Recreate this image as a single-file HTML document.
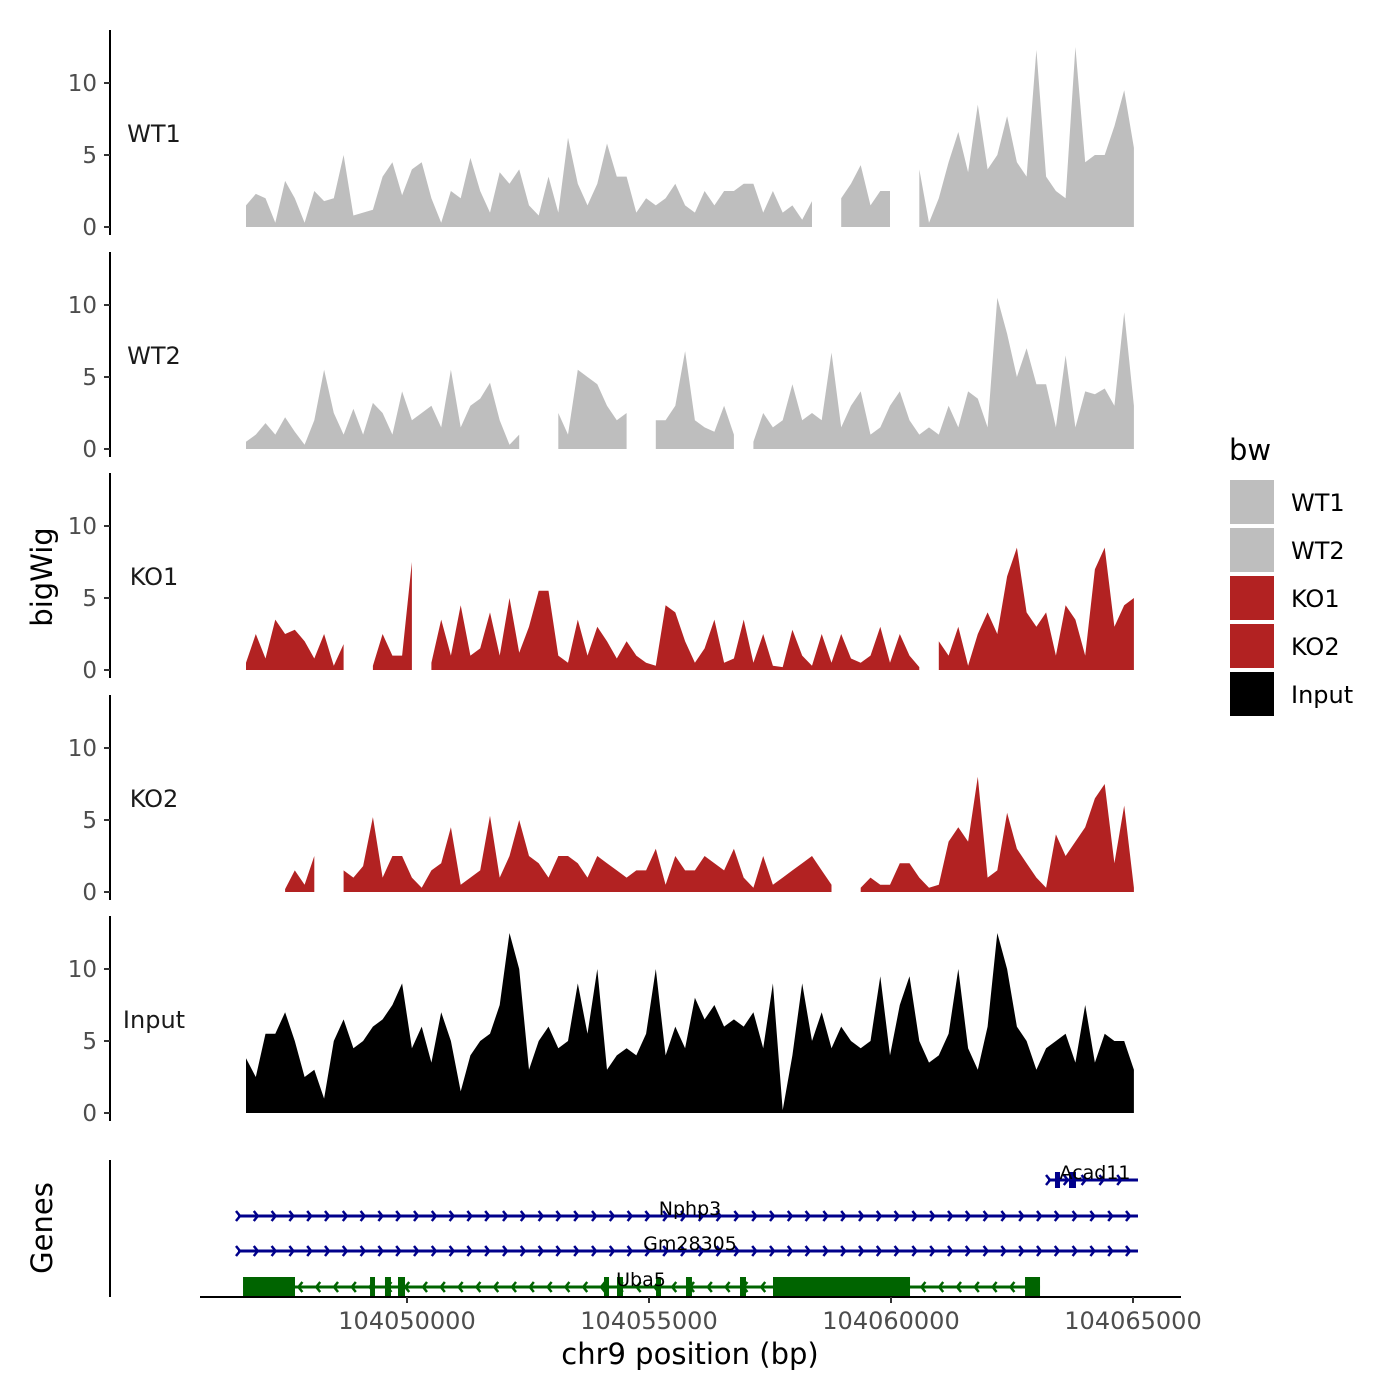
<!DOCTYPE html>
<html><head><meta charset="utf-8">
<style>
html,body{margin:0;padding:0;background:#fff;}
svg{display:block;font-family:"DejaVu Sans","Liberation Sans",sans-serif;}
</style></head>
<body>
<svg id="chart" width="1400" height="1400" viewBox="0 0 1400 1400" xmlns="http://www.w3.org/2000/svg">
<rect x="0" y="0" width="1400" height="1400" fill="#fff"/>
<g id="tracks"></g>
<g id="genes"></g>
<g id="xaxis"></g>
<text x="52" y="577" font-size="29" text-anchor="middle" transform="rotate(-90 52 577)">bigWig</text>
<text x="52" y="1228" font-size="29" text-anchor="middle" transform="rotate(-90 52 1228)">Genes</text>
<text x="690" y="1364" font-size="29" text-anchor="middle">chr9 position (bp)</text>
<g id="legend">
<text x="1229" y="460" font-size="29">bw</text>
</g>
</svg>
<script>
const startBp = 104046674;
const stepBp = 201.6;
const sampleNames = ["WT1","WT2","KO1","KO2","Input"];
const sampleColors = ["#bebebe","#bebebe","#b22222","#b22222","#000000"];
const wt1 = [1.5,2.3,2,0.3,3.2,2,0.3,2.5,1.8,2,5,0.8,1,1.2,3.5,4.5,2.2,4,4.5,2,0.3,2.5,2,4.8,2.5,1,3.8,3,4,1.5,0.8,3.5,1,6.2,3,1.5,3,5.8,3.5,3.5,1,2,1.5,2,3,1.5,1,2.5,1.5,2.5,2.5,3,3,1,2.5,1,1.5,0.5,1.8,null,null,2,3,4.3,1.5,2.5,2.5,null,null,4,0.3,2,4.5,6.6,3.8,8.5,4,5,7.7,4.5,3.5,12.3,3.5,2.5,2,12.5,4.5,5,5,7,9.5,5.5];
const wt2 = [0.5,1,1.8,1,2.2,1.2,0.3,2,5.5,2.5,1,2.8,1,3.2,2.5,1,4,2,2.5,3,1.5,5.5,1.5,3,3.5,4.6,2,0.3,1,null,null,null,2.5,1,5.5,5,4.5,3,2,2.5,null,null,2,2,3,6.8,2,1.5,1.2,3,1,null,0.5,2.5,1.5,2,4.5,2,2.5,2,6.7,1.5,3,4,1,1.5,3,4,2,1,1.5,1,3,1.5,4,3.5,1.5,10.5,8,5,7,4.5,4.5,1.5,6.5,1.5,4,3.8,4.2,3,9.5,3];
const ko1 = [0.5,2.5,0.8,3.5,2.5,2.8,2,0.8,2.5,0.3,1.8,null,null,0.3,2.5,1,1,7.5,null,0.5,3.5,1,4.5,1,1.5,4,1,5,1.2,3,5.5,5.5,1,0.5,3.5,1,3,2,0.8,2,1,0.5,0.3,4.5,4,2,0.5,1.5,3.5,0.5,0.8,3.5,0.5,2.5,0.3,0.2,2.8,1,0.3,2.5,0.5,2.5,0.8,0.5,1,3,0.5,2.5,1,0.2,null,2,1,3,0.3,2.5,4,2.5,6.5,8.5,4,3,4,1,4.5,3.5,1,7,8.5,3,4.5,5];
const ko2 = [null,null,null,null,0.2,1.5,0.5,2.5,null,null,1.5,1,1.8,5.2,1,2.5,2.5,1,0.3,1.5,2,4.5,0.5,1,1.5,5.3,1,2.5,5,2.5,2,1,2.5,2.5,2,1,2.5,2,1.5,1,1.5,1.5,3,0.5,2.5,1.5,1.5,2.5,2,1.5,3,1,0.3,2.5,0.5,1,1.5,2,2.5,1.5,0.5,null,null,0.3,1,0.5,0.5,2,2,1,0.3,0.5,3.5,4.5,3.5,8,1,1.5,5.5,3,2,1,0.3,4,2.5,3.5,4.5,6.5,7.5,2,6,0.3];
const input = [3.8,2.5,5.5,5.5,7,5,2.5,3,1,5,6.5,4.5,5,6,6.5,7.5,9,4.5,6,3.5,7,5,1.5,4,5,5.5,7.5,12.5,10,3,5,6,4.5,5,9,5.5,10,3,4,4.5,4,5.5,10,4,6,4.5,8,6.5,7.5,6,6.5,6,7,4.5,9,0.2,4,9,5,7,4.5,6,5,4.5,5,9.5,4,7.5,9.5,5,3.5,4,5.5,10,4.5,3,6,12.5,10,6,5,3,4.5,5,5.5,3.5,7.5,3.5,5.5,5,5,3];
const seriesValues = [wt1, wt2, ko1, ko2, input];
const yTicks = [0,5,10];
const xTicks = [104050000,104055000,104060000,104065000];
const xTickLabels = ["104050000","104055000","104060000","104065000"];
const geneNames = ["Acad11","Nphp3","Gm28305","Uba5"];
const geneStarts = [104063244,104046508,104046508,104046612];
const geneEnds = [104065103,104065103,104065103,104063079];
const geneStrand = [1,1,1,-1];
const geneColors = ["#00008b","#00008b","#00008b","#006400"];
const acadExonStarts = [104063388,104063678];
const acadExonEnds = [104063492,104063822];
const ubaExonStarts = [104046612,104049236,104049545,104049814,104054070,104054339,104055145,104055764,104056880,104057562,104062769];
const ubaExonEnds = [104047686,104049339,104049669,104049959,104054174,104054463,104055248,104055888,104057004,104060393,104063079];

const NS = "http://www.w3.org/2000/svg";
function mk(tag, attrs, parent){const e=document.createElementNS(NS,tag);for(const k in attrs)e.setAttribute(k,attrs[k]);parent.appendChild(e);return e;}
function xScale(bp){return 407 + (bp-104050000)*0.0484;}
const panelZero = [227,449,670,892,1113];
const pxPerUnit = 14.4;
function yScale(p,v){return panelZero[p]-v*pxPerUnit;}

const tracks=document.getElementById('tracks');
seriesValues.forEach((vals,p)=>{
  const g=mk('g',{},tracks);
  
  
  const ax=mk('line',{x1:110,x2:110,y1:panelZero[p]-197,y2:panelZero[p]+8,stroke:'#000','stroke-width':2},g);
  
  
  yTicks.forEach(t=>{
    const y=yScale(p,t);
    const tl=mk('line',{x1:104,x2:110,y1:y,y2:y,stroke:'#333','stroke-width':2},g);
    
    
    const tx=mk('text',{x:97,y:y+8,'font-size':23,fill:'#4d4d4d','text-anchor':'end'},g);
    
    
    tx.textContent=t;
  });
  const lb=mk('text',{x:154,y:panelZero[p]-85,'font-size':24,'text-anchor':'middle',fill:'#1a1a1a'},g);
  
  
  lb.textContent=sampleNames[p];
  let run=[];
  const runs=[];
  vals.forEach((v,i)=>{if(v===null){if(run.length)runs.push(run);run=[];}else run.push(i);});
  if(run.length)runs.push(run);
  runs.forEach(r=>{
    let d='M'+xScale(startBp+r[0]*stepBp).toFixed(1)+','+panelZero[p];
    r.forEach(i=>{d+=' L'+xScale(startBp+i*stepBp).toFixed(1)+','+yScale(p,vals[i]).toFixed(1);});
    d+=' L'+xScale(startBp+r[r.length-1]*stepBp).toFixed(1)+','+panelZero[p]+' Z';
    const a=mk('path',{d:d,fill:sampleColors[p]},g);
    
    
  });
});

const genes=document.getElementById('genes');
const gax=mk('line',{x1:110,x2:110,y1:1160,y2:1297,stroke:'#000','stroke-width':2},genes);


const geneY=[1180,1216,1251,1287];
geneNames.forEach((n,k)=>{
  const g=mk('g',{},genes);
  
  
  const x1=xScale(geneStarts[k]),x2=xScale(geneEnds[k]),y=geneY[k],c=geneColors[k];
  mk('line',{x1:x1,x2:x2,y1:y,y2:y,stroke:c,'stroke-width':3},g);
  for(let x=x1+2;x<=x2;x+=17.8){
    const s=geneStrand[k];
    mk('polyline',{points:(x-4*s)+','+(y-5)+' '+x+','+y+' '+(x-4*s)+','+(y+5),fill:'none',stroke:c,'stroke-width':2.5},g);
  }
  if(k===0){acadExonStarts.forEach((s,j)=>{const a=xScale(s),b=xScale(acadExonEnds[j]);mk('rect',{x:a,y:y-8,width:b-a,height:16,fill:c},g);});}
  if(k===3){ubaExonStarts.forEach((s,j)=>{const a=xScale(s),b=xScale(ubaExonEnds[j]);mk('rect',{x:a,y:y-10,width:b-a,height:20,fill:c},g);});}
  const lx=k===0?1095:(k===3?641:690);
  const t=mk('text',{x:lx,y:y-1,'font-size':19,'text-anchor':'middle',fill:'#000'},g);
  t.textContent=n;
});

const xa=document.getElementById('xaxis');
mk('line',{x1:200,x2:1181,y1:1297,y2:1297,stroke:'#000','stroke-width':2},xa);
xTicks.forEach((t,i)=>{
  const x=xScale(t);
  const tl=mk('line',{x1:x,x2:x,y1:1297,y2:1303,stroke:'#333','stroke-width':2},xa);
  
  
  const tx=mk('text',{x:x,y:1329,'font-size':24,fill:'#4d4d4d','text-anchor':'middle'},xa);
  
  
  tx.textContent=xTickLabels[i];
});

const lg=document.getElementById('legend');
sampleNames.forEach((n,i)=>{
  const y=480+i*48;
  const r=mk('rect',{x:1230,y:y,width:44,height:44,fill:sampleColors[i]},lg);
  
  
  const t=mk('text',{x:1291,y:y+31,'font-size':24,fill:'#000'},lg);
  
  
  t.textContent=n;
});
</script>
</body></html>
